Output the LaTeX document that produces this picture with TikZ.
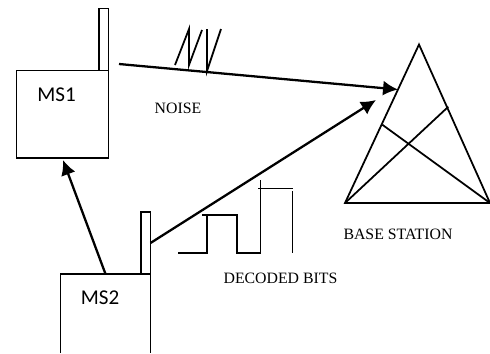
\documentclass[tikz,border=0pt]{standalone}
\usepackage{fontspec}
\setmainfont{Liberation Serif}
\newfontfamily\labelfont{Carlito}
\usetikzlibrary{arrows.meta}
\tikzset{
  wire/.style={line width=1pt},
  link/.style={line width=1.3pt,-{Latex[length=8.5pt,width=8.5pt]}},
  caption/.style={font=\fontsize{9}{11}\selectfont},
  msname/.style={font=\labelfont\fontsize{12}{14}\selectfont}
}
\begin{document}
\begin{tikzpicture}[x=0.02cm,y=-0.02cm]
  \useasboundingbox (0,0) rectangle (490,353);
  % Mobile stations
  \draw[wire] (16.5,158) rectangle (108.5,70.5);
  \draw[wire] (99,70.5) rectangle (108.5,8.5);
  \draw[wire] (60.5,353) -- (60.5,274) -- (150.5,274) -- (150.5,353);
  \draw[wire] (141,274) rectangle (150.5,212);
  \node[msname] (ms1) at (56.5,95) {MS1};
  \node[msname] (ms2) at (100,298) {MS2};
  % Base station
  \coordinate (apex) at (419,44.5);
  \coordinate (baseL) at (345,203);
  \coordinate (baseR) at (490,203);
  \coordinate (sideL) at (382.3,124.7);
  \coordinate (sideR) at (448.3,106.7);
  \draw[wire] (apex) -- (baseL) -- (baseR) -- cycle;
  \draw[wire] (sideL) -- (baseR);
  \draw[wire] (sideR) -- (baseL);
  % Links
  \coordinate (ms1tx) at (119,64);
  \coordinate (ms1rx) at (63,160);
  \coordinate (ms2tx) at (150.5,243);
  \coordinate (ms2top) at (105.5,274);
  \coordinate (bsA) at (398,89.5);
  \coordinate (bsB) at (376,100);
  \draw[link] (ms1tx) -- (bsA);
  \draw[link] (ms2tx) -- (bsB);
  \draw[link] (ms2top) -- (ms1rx);
  % Noise
  \draw[wire] (175,65) -- (189,29) -- (189,65) -- (202,30);
  \draw[wire] (207,29) -- (207,71) -- (221,29);
  % Decoded bits
  \draw[wire] (178,252.7) -- (207,252.7) -- (207,215);
  \draw[wire] (202,215) -- (237,215) -- (237,252.7) -- (260.5,252.7) -- (260.5,180);
  \draw[wire] (258,188.5) -- (293,188.5);
  \draw[wire] (292.5,191) -- (292.5,253);
  % Captions
  \node[caption] (noise) at (178,108) {NOISE};
  \node[caption] (bits) at (280.5,278) {DECODED BITS};
  \node[caption] (bs) at (398,234) {BASE STATION};
\end{tikzpicture}
\end{document}
